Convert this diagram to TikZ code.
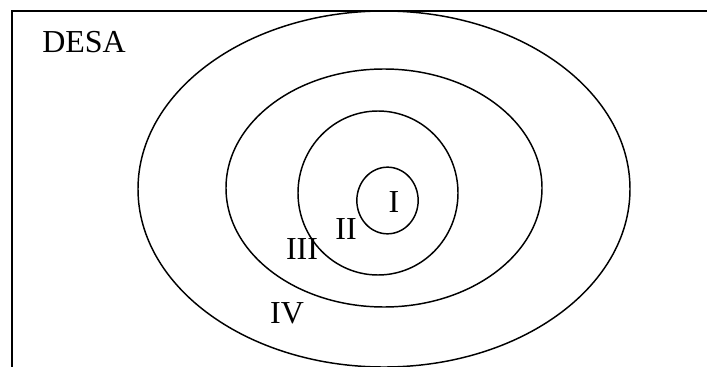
\documentclass[tikz,border=0pt]{standalone}
\usepackage{fontspec}
\setmainfont{Liberation Serif}
\usetikzlibrary{shapes.geometric}

\begin{document}
\begin{tikzpicture}[
    x=0.75pt, y=-0.75pt,
    every node/.style={font=\fontsize{24}{28}\selectfont, inner sep=0pt},
    ring/.style={draw, ellipse, line width=1.1pt, minimum width=#1},
    lbl/.style={anchor=base},
]
    \useasboundingbox (0,0) rectangle (707,367);
    \clip (0,0) rectangle (707,367);

    % Frame
    \draw[line width=1.5pt] (12,11) rectangle (740,420);
    \node[anchor=base west] (desa) at (42,53) {DESA};

    % Nested rings
    \node[ring=369pt, minimum height=267pt] (ring4) at (384,189) {};
    \node[ring=237pt, minimum height=178.5pt] (ring3) at (384,188) {};
    \node[ring=120pt, minimum height=123pt] (ring2) at (378,193) {};
    \node[ring=46pt, minimum height=50pt] (ring1) at (387.5,200.5) {};

    % Ring labels
    \node[lbl] (l1) at (394,213) {I};
    \node[lbl] (l2) at (346,239) {II};
    \node[lbl] (l3) at (302,259) {III};
    \node[lbl] (l4) at (287,323) {IV};
\end{tikzpicture}
\end{document}
